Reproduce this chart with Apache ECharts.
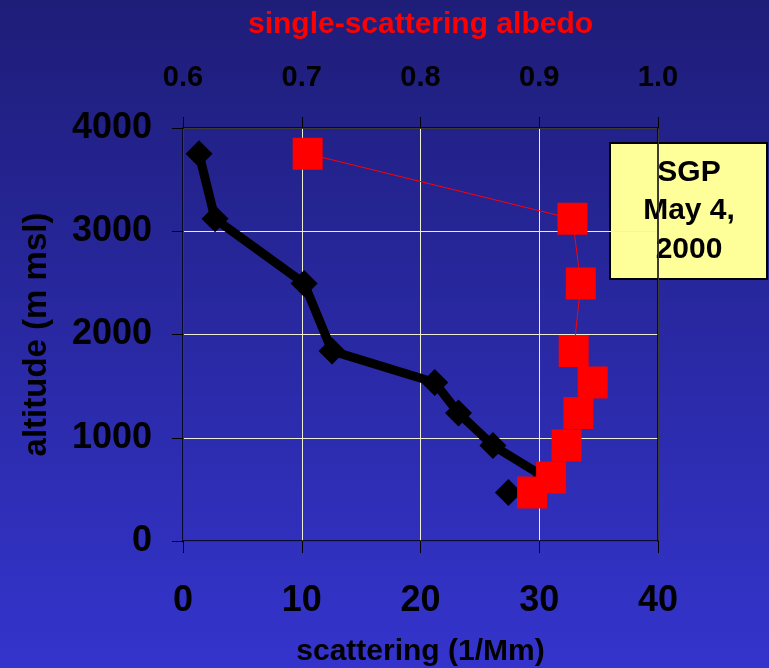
<!DOCTYPE html>
<html>
<head>
<meta charset="utf-8">
<script src="https://cdn.jsdelivr.net/npm/echarts@6/dist/echarts.min.js"></script>
<style>
  html, body { margin: 0; padding: 0; }
  #chart { width: 769px; height: 668px; }
</style>
</head>
<body>
<div id="chart"></div>
<script>
// Vertical profile: altitude (m msl) shared by both series
const altitude = [3750, 3120, 2495, 1840, 1535, 1240, 925, 615, 470];
// Aerosol light scattering (1/Mm) at each altitude
const scattering = [1.35, 2.7, 10.2, 12.55, 21.2, 23.2, 26.1, 30.5, 27.4];
// Single-scattering albedo at each altitude
const albedo = [0.705, 0.928, 0.935, 0.929, 0.945, 0.933, 0.923, 0.91, 0.894];

const scatterTicks = [0, 10, 20, 30, 40];
const albedoTicks = [0.6, 0.7, 0.8, 0.9, 1.0];
const altitudeTicks = [0, 1000, 2000, 3000, 4000];

const noteLines = ['SGP', 'May 4,', '2000'];

// The last scattering sample is plotted on its own, detached from the profile line
const scatterLine = scattering.slice(0, 8).map((s, i) => [s, altitude[i]]);
const scatterLoose = [[scattering[8], altitude[8]]];
const albedoPts = albedo.map((a, i) => [a, altitude[i]]);

const font = 'Liberation Sans, Arial, sans-serif';
const chart = echarts.init(document.getElementById('chart'));

chart.setOption({
  animation: false,
  backgroundColor: {
    type: 'linear', x: 0, y: 0, x2: 0, y2: 1,
    colorStops: [
      { offset: 0, color: '#1e1d78' },
      { offset: 1, color: '#3434cd' }
    ]
  },
  grid: {
    left: 183, right: 111, top: 128, bottom: 127,
    containLabel: false, outerBoundsMode: 'none'
  },
  xAxis: [
    {
      type: 'value', position: 'bottom',
      min: scatterTicks[0], max: scatterTicks[scatterTicks.length - 1], interval: 10,
      name: 'scattering (1/Mm)', nameLocation: 'middle', nameGap: 96,
      nameTextStyle: { color: '#000', fontFamily: font, fontWeight: 'bold', fontSize: 30 },
      axisLine: { show: true, onZero: false, lineStyle: { color: '#000', width: 1.5 } },
      axisTick: { show: true, inside: false, length: 12, lineStyle: { color: '#000', width: 1 } },
      axisLabel: { color: '#000', fontFamily: font, fontWeight: 'bold', fontSize: 36, margin: 42 },
      splitLine: { show: true, lineStyle: { color: '#eeeed0', width: 1 } }
    },
    {
      type: 'value', position: 'top',
      min: albedoTicks[0], max: albedoTicks[albedoTicks.length - 1], interval: 0.1,
      name: 'single-scattering albedo', nameLocation: 'middle', nameGap: 88,
      nameTextStyle: { color: '#ff0000', fontFamily: font, fontWeight: 'bold', fontSize: 30 },
      axisLine: { show: true, onZero: false, lineStyle: { color: '#000', width: 1.5 } },
      axisTick: { show: true, inside: false, length: 11, lineStyle: { color: '#000', width: 1 } },
      axisLabel: {
        color: '#000', fontFamily: font, fontWeight: 'bold', fontSize: 29, margin: 36,
        formatter: v => v.toFixed(1)
      },
      splitLine: { show: false }
    }
  ],
  yAxis: [
    {
      type: 'value', position: 'left',
      min: altitudeTicks[0], max: altitudeTicks[altitudeTicks.length - 1], interval: 1000,
      name: 'altitude (m msl)', nameLocation: 'middle', nameGap: 130, nameRotate: 90,
      nameTextStyle: { color: '#000', fontFamily: font, fontWeight: 'bold', fontSize: 33 },
      axisLine: { show: true, onZero: false, lineStyle: { color: '#000', width: 1.5 } },
      axisTick: { show: true, inside: false, length: 11, lineStyle: { color: '#000', width: 1 } },
      axisLabel: {
        color: '#000', fontFamily: font, fontWeight: 'bold', fontSize: 36, margin: 31,
        formatter: v => String(v)
      },
      splitLine: { show: true, lineStyle: { color: '#eeeed0', width: 1 } }
    },
    {
      type: 'value', position: 'right',
      min: altitudeTicks[0], max: altitudeTicks[altitudeTicks.length - 1], interval: 1000,
      axisLine: { show: true, onZero: false, lineStyle: { color: '#000', width: 1.5 } },
      axisTick: { show: false },
      axisLabel: { show: false },
      splitLine: { show: false }
    }
  ],
  series: [
    {
      type: 'line', xAxisIndex: 0, yAxisIndex: 0,
      data: scatterLine,
      symbol: 'diamond', symbolSize: 27,
      lineStyle: { color: '#000', width: 9 },
      itemStyle: { color: '#000', opacity: 1 },
      z: 2
    },
    {
      type: 'scatter', xAxisIndex: 0, yAxisIndex: 0,
      data: scatterLoose,
      symbol: 'diamond', symbolSize: 27,
      itemStyle: { color: '#000', opacity: 1 },
      z: 2
    },
    {
      type: 'line', xAxisIndex: 1, yAxisIndex: 0,
      data: albedoPts,
      symbol: 'rect', symbolSize: [30, 32],
      lineStyle: { color: '#ff0000', width: 1 },
      itemStyle: { color: '#ff0000', opacity: 1 },
      z: 3
    }
  ],
  graphic: [
    {
      type: 'group', left: 609, top: 142, z: 10,
      children: [
        {
          type: 'rect',
          shape: { x: 0, y: 0, width: 157, height: 136 },
          style: { fill: '#ffff99', stroke: '#000', lineWidth: 2 }
        },
        {
          type: 'text', x: 79, y: 68,
          style: {
            text: noteLines.join('\n'),
            fill: '#000', font: 'bold 30px ' + font,
            lineHeight: 38.5, align: 'center', verticalAlign: 'middle'
          }
        }
      ]
    }
  ]
});
</script>
</body>
</html>
